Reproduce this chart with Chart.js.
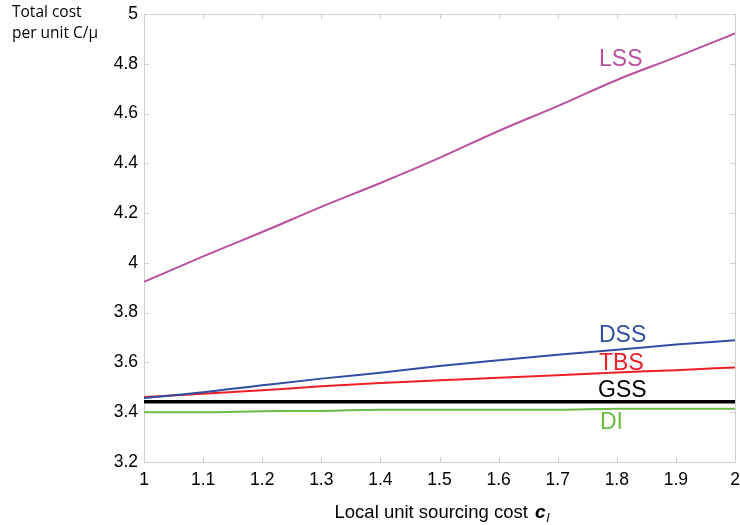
<!DOCTYPE html>
<html>
<head>
<meta charset="utf-8">
<script src="https://cdn.jsdelivr.net/npm/chart.js@4.4.1/dist/chart.umd.min.js"></script>
<style>
  html, body { margin: 0; padding: 0; background: #fff; }
  #wrap { width: 740px; height: 525px; }
</style>
</head>
<body>
<div id="wrap"><canvas id="c" width="740" height="525"></canvas></div>
<script>
// Local unit sourcing cost c_l
const costs = [1, 1.1, 1.2, 1.3, 1.4, 1.5, 1.6, 1.7, 1.8, 1.9, 2];

// Total cost per unit for each sourcing strategy
const lss = [3.924, 4.026, 4.124, 4.225, 4.321, 4.422, 4.530, 4.630, 4.735, 4.827, 4.922];
const dss = [3.457, 3.480, 3.508, 3.535, 3.559, 3.586, 3.609, 3.631, 3.651, 3.672, 3.689];
const tbs = [3.461, 3.474, 3.488, 3.504, 3.517, 3.528, 3.539, 3.549, 3.560, 3.569, 3.580];
const gss = [3.442, 3.442, 3.442, 3.442, 3.442, 3.442, 3.442, 3.442, 3.442, 3.442, 3.442];
const di  = [3.400, 3.400, 3.404, 3.405, 3.410, 3.410, 3.410, 3.410, 3.414, 3.414, 3.414];

const xTickLabels = ['1', '1.1', '1.2', '1.3', '1.4', '1.5', '1.6', '1.7', '1.8', '1.9', '2'];
const yTickLabels = ['3.2', '3.4', '3.6', '3.8', '4', '4.2', '4.4', '4.6', '4.8', '5'];

const series = [
  { name: 'LSS', values: lss, color: '#B8509F', width: 2,   labelX: 599, labelY: 66 },
  { name: 'DSS', values: dss, color: '#2F4EA2', width: 2,   labelX: 599, labelY: 342 },
  { name: 'TBS', values: tbs, color: '#EC1F27', width: 2,   labelX: 599, labelY: 370 },
  { name: 'GSS', values: gss, color: '#000000', width: 3.5, labelX: 598, labelY: 397 },
  { name: 'DI',  values: di,  color: '#68BD45', width: 2,   labelX: 600, labelY: 429 }
];

const datasets = series.map(s => ({
  label: s.name,
  data: costs.map((x, i) => ({ x: x, y: s.values[i] })),
  borderColor: s.color,
  backgroundColor: s.color,
  borderWidth: s.width,
  pointRadius: 0,
  cubicInterpolationMode: 'monotone',
  fill: false
}));

const AXIS_GREY = '#CFCFCF';
const SANS = '"Liberation Sans", Arial, sans-serif';

// Frame with short inward tick marks, series names and axis titles
const decorations = {
  id: 'decorations',
  beforeDatasetsDraw(chart) {
    const { ctx, chartArea: a, scales } = chart;
    ctx.save();
    ctx.strokeStyle = AXIS_GREY;
    ctx.lineWidth = 1;
    ctx.beginPath();
    ctx.rect(Math.round(a.left) + 0.5, Math.round(a.top) + 0.5,
             Math.round(a.right - a.left), Math.round(a.bottom - a.top));
    const len = 5;
    scales.x.ticks.forEach(t => {
      const px = Math.round(scales.x.getPixelForValue(t.value)) + 0.5;
      ctx.moveTo(px, a.bottom); ctx.lineTo(px, a.bottom - len);
      ctx.moveTo(px, a.top); ctx.lineTo(px, a.top + len);
    });
    scales.y.ticks.forEach(t => {
      const py = Math.round(scales.y.getPixelForValue(t.value)) + 0.5;
      ctx.moveTo(a.left, py); ctx.lineTo(a.left + len, py);
      ctx.moveTo(a.right, py); ctx.lineTo(a.right - len, py);
    });
    ctx.stroke();
    ctx.restore();
  },
  afterDraw(chart) {
    const { ctx } = chart;
    ctx.save();
    ctx.textBaseline = 'alphabetic';
    ctx.textAlign = 'left';

    // series names
    ctx.font = '23px ' + SANS;
    series.forEach(s => {
      ctx.fillStyle = s.color;
      ctx.fillText(s.name, s.labelX, s.labelY);
    });

    // y-axis title, upper left
    ctx.fillStyle = '#000';
    ctx.font = '15.5px "Open Sans", sans-serif';
    ctx.fillText('Total cost', 12, 17);
    ctx.fillText('per unit C/\u03BC', 12, 38);

    // x-axis title with italic subscripted symbol
    const main = 'Local unit sourcing cost ';
    ctx.font = '18.5px ' + SANS;
    const wMain = ctx.measureText(main).width;
    ctx.font = 'italic bold 19px ' + SANS;
    const wC = ctx.measureText('c').width;
    ctx.font = 'italic 13px ' + SANS;
    const wL = ctx.measureText('l').width;
    const a = chart.chartArea;
    const gap = 2;
    const total = wMain + wC + gap + wL;
    const x0 = (a.left + a.right) / 2 - total / 2 + 2;
    const base = 518;
    ctx.font = '18.5px ' + SANS;
    ctx.fillText(main, x0, base);
    ctx.font = 'italic bold 19px ' + SANS;
    ctx.fillText('c', x0 + wMain + 2, base);
    ctx.font = 'italic 13px ' + SANS;
    ctx.fillText('l', x0 + wMain + wC + gap + 1, base + 4);
    ctx.restore();
  }
};

new Chart(document.getElementById('c'), {
  type: 'line',
  data: { datasets: datasets },
  plugins: [decorations],
  options: {
    responsive: false,
    animation: false,
    layout: { padding: { top: 14, right: 5, bottom: 0, left: 0 } },
    plugins: {
      legend: { display: false },
      tooltip: { enabled: false },
      title: { display: false }
    },
    scales: {
      x: {
        type: 'linear',
        min: 1,
        max: 2,
        grid: { display: false, drawTicks: false },
        border: { display: false },
        ticks: {
          stepSize: 0.1,
          padding: 8,
          color: '#000',
          font: { family: SANS, size: 17.5 },
          maxRotation: 0,
          autoSkip: false,
          callback: (v, i) => xTickLabels[i]
        },
        afterFit: s => { s.height = 63; s.paddingLeft = 0; s.paddingRight = 0; }
      },
      y: {
        type: 'linear',
        min: 3.2,
        max: 5,
        grid: { display: false, drawTicks: false },
        border: { display: false },
        ticks: {
          stepSize: 0.2,
          padding: 6,
          color: '#000',
          font: { family: SANS, size: 17.5 },
          autoSkip: false,
          callback: (v, i) => yTickLabels[i]
        },
        afterFit: s => { s.width = 144; s.paddingTop = 0; s.paddingBottom = 0; }
      }
    }
  }
});
</script>
</body>
</html>
